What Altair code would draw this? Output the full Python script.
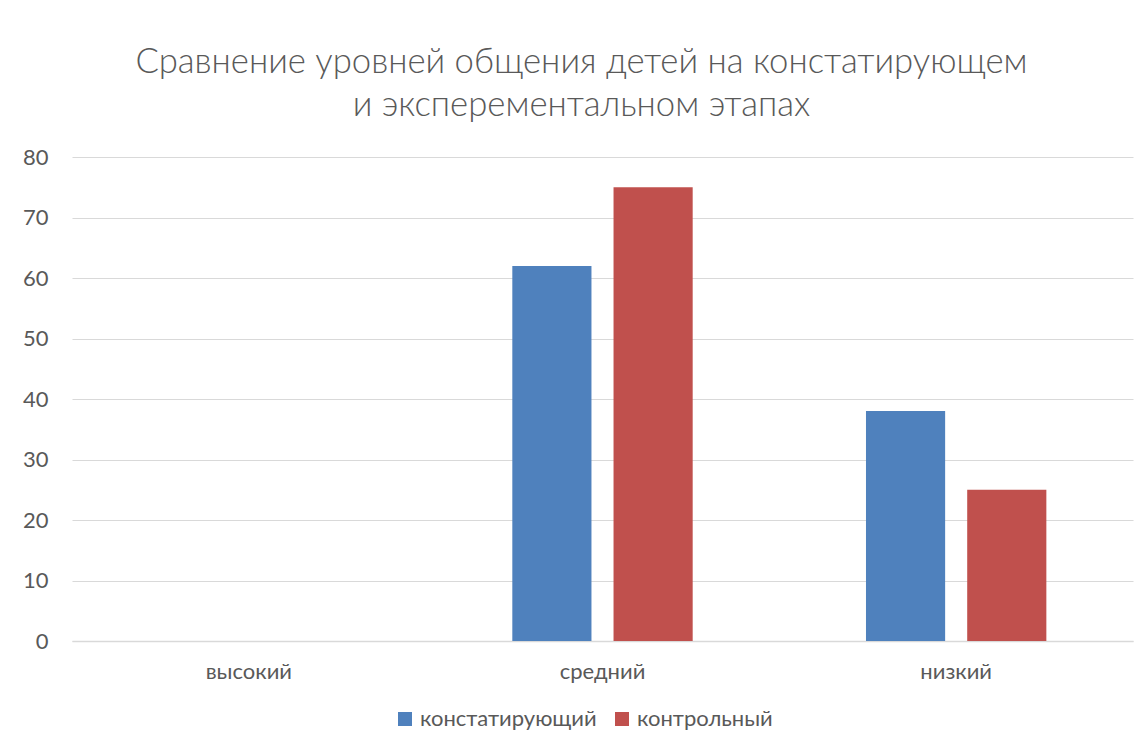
import altair as alt
import pandas as pd

categories = ["высокий", "средний", "низкий"]
series_names = ["констатирующий", "контрольный"]
konst = [0, 62, 38]
kontr = [0, 75, 25]
colors = ["#4F81BD", "#C0504D"]
title_lines = ["Сравнение уровней общения детей на констатирующем", "и эксперементальном этапах"]

rows = []
for c, a, b in zip(categories, konst, kontr):
    rows.append({"cat": c, "series": series_names[0], "value": a})
    rows.append({"cat": c, "series": series_names[1], "value": b})
df = pd.DataFrame(rows)

FONT = "Lato"
GRAY = "#595959"

chart = alt.Chart(df).mark_bar().encode(
    x=alt.X("cat:N", sort=categories, title=None,
            scale=alt.Scale(paddingInner=0.49, paddingOuter=0.245),
            axis=alt.Axis(labelAngle=0, labelFontSize=22, labelColor=GRAY, labelFont=FONT,
                          labelPadding=20, ticks=False, domainColor="#d9d9d9", domainWidth=1.5)),
    xOffset=alt.XOffset("series:N", sort=series_names,
                        scale=alt.Scale(paddingInner=0.218, paddingOuter=0)),
    y=alt.Y("value:Q", title=None,
            scale=alt.Scale(domain=[0, 80]),
            axis=alt.Axis(values=[0, 10, 20, 30, 40, 50, 60, 70, 80], labelFontSize=22,
                          labelColor=GRAY, labelFont=FONT, labelPadding=24, ticks=False,
                          domain=False, gridColor="#d9d9d9", gridWidth=1.2)),
    color=alt.Color("series:N", sort=series_names, title=None,
                    scale=alt.Scale(domain=series_names, range=colors),
                    legend=alt.Legend(orient="none", direction="horizontal",
                                      legendX=322, legendY=551,
                                      symbolType="square", symbolSize=196, symbolStrokeWidth=0,
                                      labelFontSize=22, labelColor=GRAY, labelFont=FONT,
                                      labelLimit=400, labelOffset=4, columnPadding=14)),
).properties(
    width=1061,
    height=484,
    title=alt.TitleParams(text=title_lines, fontSize=34.7, font=FONT, color=GRAY,
                          fontWeight=300, lineHeight=43, anchor="middle", offset=22, dx=-21),
    autosize=alt.AutoSizeParams(type="none"),
    padding={"left": 64, "top": 149, "right": 5, "bottom": 95},
).configure_view(stroke=None)

chart.save("out.html", embed_options={"renderer": "svg", "actions": False})
